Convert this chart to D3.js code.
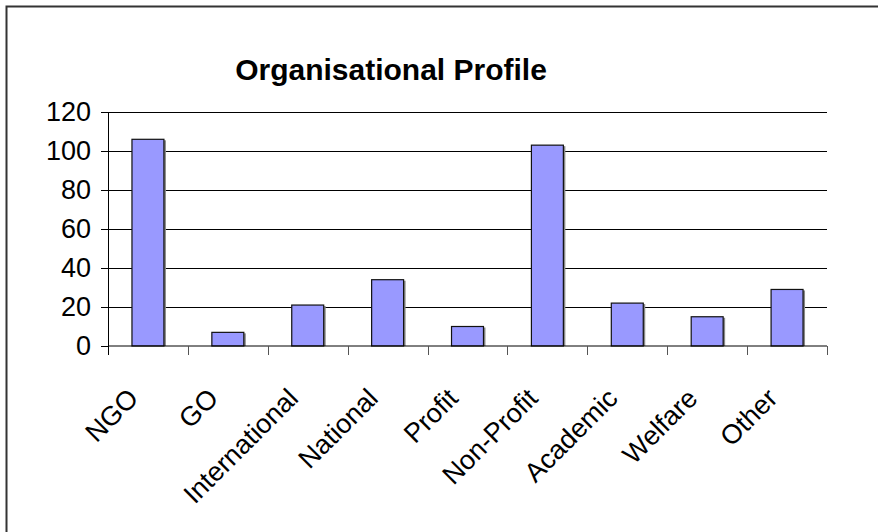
<!DOCTYPE html>
<html>
<head>
<meta charset="utf-8">
<script src="https://cdn.jsdelivr.net/npm/d3@7"></script>
<style>
  body { margin: 0; background: #fff; }
  text { font-family: "Liberation Sans", Arial, sans-serif; }
</style>
</head>
<body>
<svg id="chart"></svg>
<script>
const categories = ["NGO", "GO", "International", "National", "Profit", "Non-Profit", "Academic", "Welfare", "Other"];
const counts = [106, 7, 21, 34, 10, 103, 22, 15, 29];
const yTicks = [0, 20, 40, 60, 80, 100, 120];

const width = 878;
const height = 532;
const svg = d3.select("svg#chart")
  .attr("width", width)
  .attr("height", height);

// plot area
const margin = {top: 112, bottom: 186, left: 108, right: 51};

// outer frame (runs off the right and bottom edges)
svg.append("rect")
  .attr("x", 6.5).attr("y", 6.5)
  .attr("width", width + 20).attr("height", height + 20)
  .attr("fill", "white")
  .attr("stroke", "#333")
  .attr("stroke-width", 2);

const x = d3.scaleBand()
  .domain(categories)
  .range([margin.left, width - margin.right])
  .paddingInner(0.6)
  .paddingOuter(0.3);

const y = d3.scaleLinear()
  .domain([0, 120])
  .range([height - margin.bottom, margin.top]);

// gridlines
svg.append("g")
  .attr("id", "grid")
  .selectAll("line")
  .data(yTicks.filter(d => d > 0))
  .enter()
  .append("line")
    .attr("x1", margin.left)
    .attr("x2", width - margin.right)
    .attr("y1", d => Math.round(y(d)) + 0.5)
    .attr("y2", d => Math.round(y(d)) + 0.5)
    .attr("stroke", "black")
    .attr("stroke-width", 1);

// bars with a thin grey shadow
const bars = svg.append("g").attr("id", "bars");
bars.selectAll("rect.shadow")
  .data(counts)
  .enter()
  .append("rect")
    .attr("class", "shadow")
    .attr("x", (d, i) => x(categories[i]) + 2)
    .attr("y", d => y(d) + 1)
    .attr("width", x.bandwidth())
    .attr("height", d => y(0) - y(d) - 1)
    .attr("fill", "#888");
bars.selectAll("rect.bar")
  .data(counts)
  .enter()
  .append("rect")
    .attr("class", "bar")
    .attr("x", (d, i) => x(categories[i]))
    .attr("y", d => y(d))
    .attr("width", x.bandwidth())
    .attr("height", d => y(0) - y(d))
    .attr("fill", "#9999FF")
    .attr("stroke", "#111")
    .attr("stroke-width", 1.2);

// y axis
const yAxis = svg.append("g")
  .attr("id", "yAxis")
  .attr("transform", "translate(" + margin.left + ",0)")
  .call(d3.axisLeft(y).tickValues(yTicks).tickSize(7).tickPadding(10).tickFormat(d3.format("d")));
yAxis.selectAll("text").style("font-size", "27px").attr("fill", "black");
yAxis.selectAll("line, path").attr("stroke", "black");

// x axis: ticks at band boundaries
const xAxisG = svg.append("g")
  .attr("id", "xAxis")
  .attr("transform", "translate(0," + y(0) + ")");
xAxisG.append("line")
  .attr("x1", margin.left).attr("x2", width - margin.right)
  .attr("stroke", "black");
const step = x.step();
xAxisG.selectAll("line.tick")
  .data(d3.range(categories.length + 1))
  .enter()
  .append("line")
    .attr("class", "tick")
    .attr("x1", i => Math.round(margin.left + i * step) + 0.5)
    .attr("x2", i => Math.round(margin.left + i * step) + 0.5)
    .attr("y1", 0).attr("y2", 9)
    .attr("stroke", i => i == 0 ? "black" : "#555");
xAxisG.selectAll("text")
  .data(categories)
  .enter()
  .append("text")
    .attr("transform", d => "translate(" + (x(d) + x.bandwidth() / 2 - 8) + ",54) rotate(-45)")
    .attr("text-anchor", "end")
    .style("font-size", "27px")
    .text(d => d);

// title
svg.append("text")
  .attr("x", 391)
  .attr("y", 80)
  .attr("text-anchor", "middle")
  .style("font-size", "30px")
  .style("font-weight", "bold")
  .text("Organisational Profile");
</script>
</body>
</html>
